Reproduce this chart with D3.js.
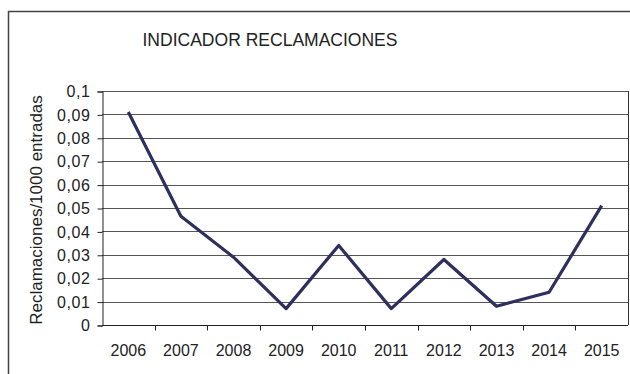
<!DOCTYPE html>
<html>
<head>
<meta charset="utf-8">
<script src="https://cdn.jsdelivr.net/npm/d3@7"></script>
<style>
  body { margin: 0; background: #fff; }
  svg { display: block; }
</style>
</head>
<body>
<div id="chart"></div>
<script>
// Data
const years = ['2006', '2007', '2008', '2009', '2010', '2011', '2012', '2013', '2014', '2015']
const values = [0.091, 0.0465, 0.029, 0.007, 0.034, 0.007, 0.028, 0.008, 0.014, 0.051]
const yTicks = [0, 0.01, 0.02, 0.03, 0.04, 0.05, 0.06, 0.07, 0.08, 0.09, 0.1]

const w = 630
const h = 374
const margin = { top: 91, right: 2, bottom: 49, left: 102 }
const font = '"Liberation Sans", Arial, sans-serif'

const svg = d3.select('#chart').append('svg')
  .attr('width', w)
  .attr('height', h)

// Outer frame (top and left edges visible)
svg.append('path')
  .attr('d', `M8.5,${h} V11.5 H${w}`)
  .attr('fill', 'none')
  .attr('stroke', '#444')
  .attr('stroke-width', 1.5)

// Title (narrow look)
svg.append('text')
  .attr('x', 270)
  .attr('y', 46)
  .attr('text-anchor', 'middle')
  .attr('textLength', 255)
  .attr('lengthAdjust', 'spacingAndGlyphs')
  .style('font-family', font)
  .style('font-size', '19px')
  .style('fill', '#222')
  .text('INDICADOR RECLAMACIONES')

// Scales
const x = d3.scaleBand()
  .domain(years)
  .range([margin.left, w - margin.right])

const y = d3.scaleLinear()
  .domain([0, 0.1])
  .range([h - margin.bottom, margin.top])

const fmt = d => d3.format('')(d).replace('.', ',')

// Gridlines
svg.append('g')
  .selectAll('line')
  .data(yTicks.slice(1))
  .join('line')
  .attr('x1', margin.left)
  .attr('x2', w - margin.right)
  .attr('y1', d => Math.round(y(d)) + 0.5)
  .attr('y2', d => Math.round(y(d)) + 0.5)
  .attr('stroke', '#555')
  .attr('stroke-width', 1)

// Right border of plot
svg.append('line')
  .attr('x1', w - margin.right + 0.5)
  .attr('x2', w - margin.right + 0.5)
  .attr('y1', y(0.1))
  .attr('y2', y(0))
  .attr('stroke', '#333')

// Y axis
const yAxis = d3.axisLeft(y)
  .tickValues(yTicks)
  .tickFormat(fmt)
  .tickSize(5)
  .tickPadding(7)

svg.append('g')
  .attr('transform', `translate(${margin.left + 0.5}, 0.5)`)
  .call(yAxis)
  .call(g => g.selectAll('text')
    .style('font-family', font)
    .style('font-size', '16px')
    .style('letter-spacing', '0.6px')
    .style('fill', '#222'))
  .call(g => g.selectAll('line, path').attr('stroke', '#222'))

// X axis with ticks between categories
const xAxisG = svg.append('g')
  .attr('transform', `translate(0, ${Math.round(y(0)) + 0.5})`)

xAxisG.append('line')
  .attr('x1', margin.left)
  .attr('x2', w - margin.right)
  .attr('stroke', '#222')

xAxisG.selectAll('.tick-mark')
  .data(years.slice(1))
  .join('line')
  .attr('class', 'tick-mark')
  .attr('x1', d => Math.round(x(d)) + 0.5)
  .attr('x2', d => Math.round(x(d)) + 0.5)
  .attr('y1', 0)
  .attr('y2', 5)
  .attr('stroke', '#222')

xAxisG.selectAll('text')
  .data(years)
  .join('text')
  .attr('x', d => x(d) + x.bandwidth() / 2)
  .attr('y', 30)
  .attr('text-anchor', 'middle')
  .style('font-family', font)
  .style('font-size', '16px')
  .style('fill', '#222')
  .text(d => d)

// Y axis label
svg.append('text')
  .attr('transform', `translate(42, 210) rotate(-90)`)
  .attr('text-anchor', 'middle')
  .style('font-family', font)
  .style('font-size', '17px')
  .style('fill', '#222')
  .text('Reclamaciones/1000 entradas')

// Line
const line = d3.line()
  .x((d, i) => x(years[i]) + x.bandwidth() / 2)
  .y(d => y(d))

svg.append('path')
  .datum(values)
  .attr('d', line)
  .attr('fill', 'none')
  .attr('stroke', '#2e2f5e')
  .attr('stroke-width', 3.2)
  .attr('stroke-linejoin', 'round')
</script>
</body>
</html>
